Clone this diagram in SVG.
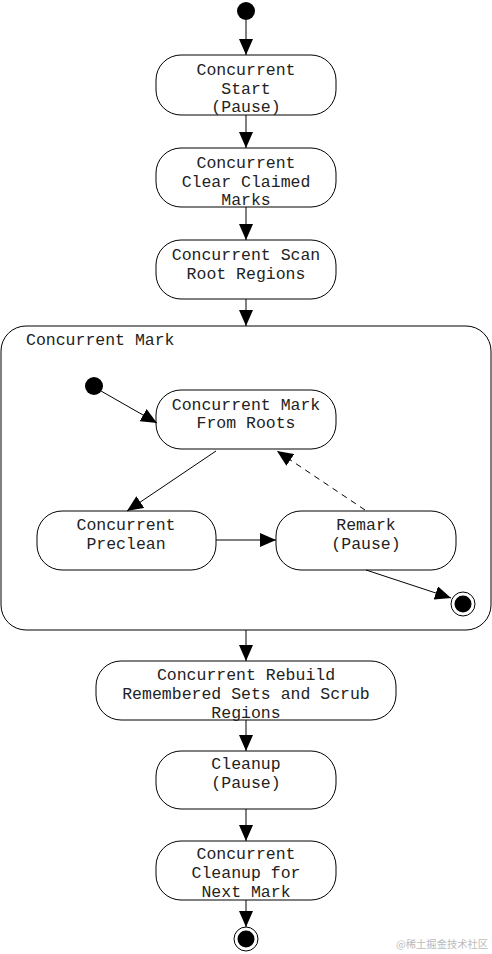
<svg xmlns="http://www.w3.org/2000/svg" width="492" height="954" viewBox="0 0 492 954">
<style>
.n{fill:#fff;stroke:#000;stroke-width:1}
.t{font-family:"Liberation Mono",monospace;font-size:16.5px;fill:#222;text-anchor:middle}
.c{stroke:#000;stroke-width:1;fill:none}
.d{stroke-dasharray:6,5}
.wm{font-family:"Noto Sans CJK SC",sans-serif;font-size:10.3px;fill:#bbb}
</style>
<defs>
<marker id="a" markerUnits="userSpaceOnUse" markerWidth="18" markerHeight="14" refX="16" refY="7" orient="auto">
<path d="M0,0 L16,7 L0,14 Z" fill="#000"/>
</marker>
</defs>
<rect width="492" height="954" fill="#fff"/>
<g id="composite">
<rect x="1" y="326" width="490" height="304" rx="25" class="n"/>
<text x="26" y="345" class="t" style="text-anchor:start">Concurrent Mark</text>
</g>
<g id="start"><circle cx="246" cy="11" r="9" fill="#000"/></g>
<g id="n1"><rect x="156" y="55" width="180" height="60" rx="25" class="n"/>
<text class="t" x="246" y="75">Concurrent</text><text class="t" x="246" y="94">Start</text><text class="t" x="246" y="112">(Pause)</text></g>
<g id="n2"><rect x="156" y="148" width="180" height="59" rx="25" class="n"/>
<text class="t" x="246" y="168">Concurrent</text><text class="t" x="246" y="187">Clear Claimed</text><text class="t" x="246" y="205">Marks</text></g>
<g id="n3"><rect x="156" y="240" width="180" height="59" rx="25" class="n"/>
<text class="t" x="246" y="260">Concurrent Scan</text><text class="t" x="246" y="279">Root Regions</text></g>
<g id="innerStart"><circle cx="94" cy="386" r="9" fill="#000"/></g>
<g id="n4"><rect x="156" y="390" width="180" height="59" rx="25" class="n"/>
<text class="t" x="246" y="410">Concurrent Mark</text><text class="t" x="246" y="428">From Roots</text></g>
<g id="n5"><rect x="37" y="511" width="179" height="59" rx="25" class="n"/>
<text class="t" x="126" y="530">Concurrent</text><text class="t" x="126" y="549">Preclean</text></g>
<g id="n6"><rect x="276" y="511" width="180" height="59" rx="25" class="n"/>
<text class="t" x="366" y="530">Remark</text><text class="t" x="366" y="549">(Pause)</text></g>
<g id="innerEnd"><circle cx="463" cy="604" r="12" class="n"/><circle cx="463" cy="604" r="8.5" fill="#000"/></g>
<g id="n7"><rect x="96" y="661" width="300" height="59" rx="25" class="n"/>
<text class="t" x="246" y="680">Concurrent Rebuild</text><text class="t" x="246" y="699">Remembered Sets and Scrub</text><text class="t" x="246" y="718">Regions</text></g>
<g id="n8"><rect x="156" y="751" width="180" height="58" rx="25" class="n"/>
<text class="t" x="246" y="769">Cleanup</text><text class="t" x="246" y="788">(Pause)</text></g>
<g id="n9"><rect x="156" y="841" width="180" height="59" rx="25" class="n"/>
<text class="t" x="246" y="859">Concurrent</text><text class="t" x="246" y="878">Cleanup for</text><text class="t" x="246" y="897">Next Mark</text></g>
<g id="end"><circle cx="246" cy="939" r="12" class="n"/><circle cx="246" cy="939" r="8.5" fill="#000"/></g>
<g id="connectors">
<line x1="246" y1="20" x2="246" y2="55" class="c" marker-end="url(#a)"/>
<line x1="246" y1="115" x2="246" y2="148" class="c" marker-end="url(#a)"/>
<line x1="246" y1="207" x2="246" y2="240" class="c" marker-end="url(#a)"/>
<line x1="246" y1="299" x2="246" y2="326" class="c" marker-end="url(#a)"/>
<line x1="101" y1="391" x2="157" y2="423" class="c" marker-end="url(#a)"/>
<line x1="216" y1="451" x2="127" y2="511" class="c" marker-end="url(#a)"/>
<line x1="216" y1="540" x2="276" y2="540" class="c" marker-end="url(#a)"/>
<line x1="365" y1="510" x2="277" y2="451" class="c d" marker-end="url(#a)"/>
<line x1="366" y1="570" x2="451" y2="598" class="c" marker-end="url(#a)"/>
<line x1="246" y1="630" x2="246" y2="661" class="c" marker-end="url(#a)"/>
<line x1="246" y1="720" x2="246" y2="751" class="c" marker-end="url(#a)"/>
<line x1="246" y1="809" x2="246" y2="841" class="c" marker-end="url(#a)"/>
<line x1="246" y1="900" x2="246" y2="927" class="c" marker-end="url(#a)"/>
</g>
<text x="396" y="948" class="wm">@稀土掘金技术社区</text>
</svg>
